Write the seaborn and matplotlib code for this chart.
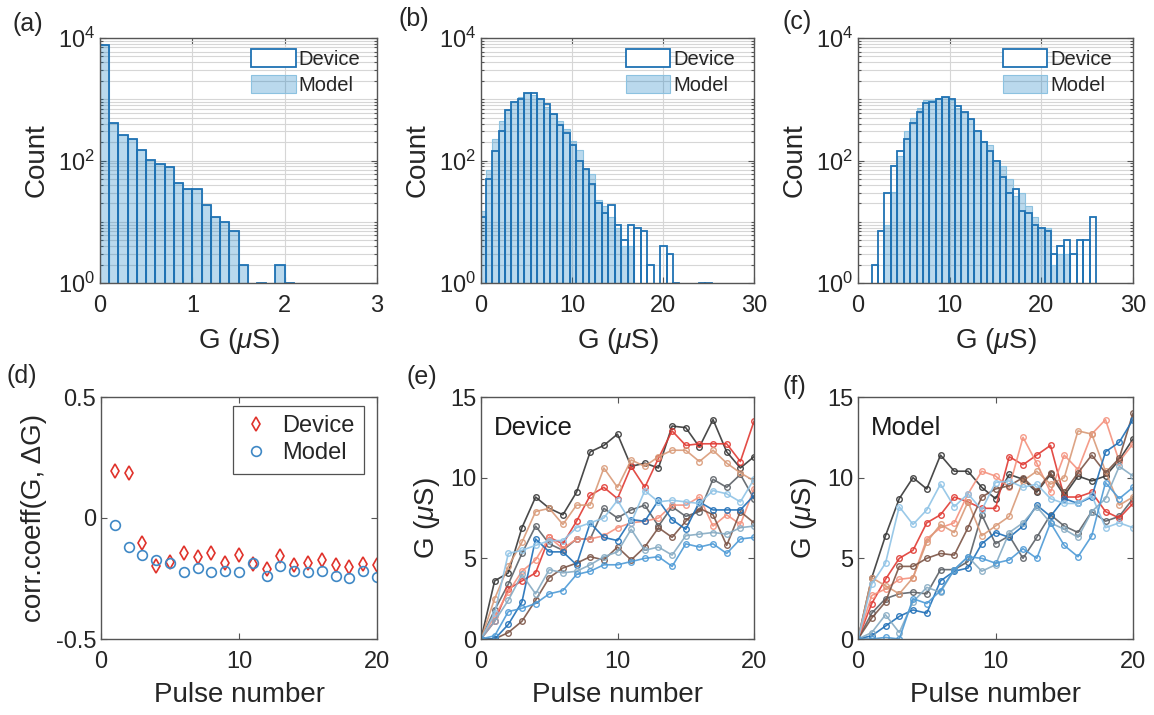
import numpy as np
import pandas as pd
import matplotlib
matplotlib.use('Agg')
import matplotlib.pyplot as plt
import seaborn as sns
from matplotlib.patches import Patch
from matplotlib.lines import Line2D
from matplotlib.ticker import FixedLocator, LogFormatterMathtext, NullFormatter

# ---- histogram data (bin start, bin width, counts) ----
a_start, a_width = 0.0, 0.1
a_device = [7800, 405, 262, 222, 151, 102, 88, 78, 43, 34, 34, 19, 12, 10, 7, 2, 0, 1, 0, 2, 1]
a_model = [7800, 405, 262, 222, 151, 102, 88, 78, 43, 34, 34, 19, 12, 10, 7, 2, 0, 1, 0, 2, 1]

b_start, b_width = -0.2, 0.71
b_device = [12, 50, 143, 302, 660, 900, 1010, 1250, 1250, 1010, 830, 575, 380, 277, 177, 97, 74, 42,
            20, 14, 19, 9, 5, 9, 8, 7, 2, 0, 4, 3, 1, 0, 0, 0, 1, 1, 0]
b_model = [15, 70, 222, 446, 660, 900, 1100, 1250, 1170, 1010, 760, 575, 446, 326, 208, 150, 74, 60,
           23, 18, 12, 8, 4, 4, 0, 0, 0, 0, 0, 0, 0, 0, 0, 0, 0, 0, 0]

c_start, c_width = 1.49, 0.699
c_device = [2, 7, 29, 82, 143, 222, 406, 628, 860, 915, 1000, 1075, 1010, 785, 628, 475, 302, 203,
            143, 98, 53, 29, 34, 15, 14, 9, 8, 7, 3, 4, 5, 3, 5, 5, 12]
c_model = [0, 0, 9, 31, 118, 308, 490, 727, 975, 975, 1040, 1075, 975, 710, 628, 475, 302, 206,
           178, 100, 81, 49, 26, 29, 18, 12, 8, 8, 2, 3, 3, 0, 0, 0, 0]

# ---- correlation coefficient vs pulse ----
pulses = list(range(1, 21))
corr_device = [0.193, 0.186, -0.105, -0.197, -0.18, -0.146, -0.160, -0.146, -0.184, -0.153,
               -0.192, -0.212, -0.156, -0.195, -0.188, -0.174, -0.195, -0.204, -0.192, -0.195]
corr_model = [-0.027, -0.119, -0.151, -0.174, -0.188, -0.222, -0.208, -0.222, -0.219, -0.222,
              -0.188, -0.239, -0.197, -0.219, -0.222, -0.219, -0.239, -0.247, -0.219, -0.243]

# ---- conductance traces ----
steps = list(range(0, 21))
trace_colors = ['#363636', '#5b6066', '#e03a33', '#f4917d', '#d99a78', '#7b5446',
                '#1f6fb7', '#8fc3e6', '#86abc3', '#4d9ad6']
device_traces = [
    [0, 3.6, 4.1, 6.9, 8.8, 8.1, 7.7, 9.1, 11.6, 12.0, 12.7, 10.7, 10.9, 10.6, 13.2, 13.1, 11.9, 13.6, 11.6, 10.6, 11.3],
    [0, 1.8, 3.4, 5.3, 7.0, 5.9, 5.5, 6.2, 6.2, 8.1, 7.5, 8.0, 8.3, 7.0, 8.2, 7.6, 7.9, 9.9, 9.4, 10.2, 8.7],
    [0, 1.1, 3.1, 3.6, 4.1, 6.3, 5.9, 7.3, 8.9, 9.4, 8.7, 10.7, 9.4, 11.2, 12.9, 12.0, 12.1, 12.1, 12.1, 11.0, 13.5],
    [0, 1.4, 2.9, 4.2, 4.9, 6.3, 5.6, 6.2, 6.2, 6.4, 6.9, 7.2, 7.3, 7.5, 8.3, 8.3, 8.8, 7.0, 7.7, 7.1, 9.3],
    [0, 2.5, 4.5, 6.0, 7.9, 8.1, 7.1, 8.3, 8.3, 10.6, 9.4, 11.1, 10.7, 11.3, 11.7, 11.7, 11.0, 11.7, 10.9, 10.3, 9.8],
    [0, 0, 0.4, 1.1, 2.4, 3.8, 4.4, 4.7, 5.1, 4.9, 5.7, 4.9, 5.7, 6.9, 6.3, 7.3, 8.1, 7.7, 5.8, 7.9, 7.2],
    [0, 0, 0.9, 2.3, 6.2, 5.4, 5.4, 4.6, 7.2, 6.3, 6.1, 7.4, 7.3, 8.6, 7.4, 6.8, 8.5, 8.0, 8.0, 8.0, 8.9],
    [0, 1.6, 5.3, 5.5, 5.8, 6.1, 6.1, 6.9, 7.2, 7.5, 8.6, 7.2, 9.2, 8.5, 8.6, 8.5, 8.4, 9.2, 9.0, 8.5, 9.9],
    [0, 1.1, 2.4, 4.0, 2.8, 4.3, 4.1, 4.2, 4.6, 5.1, 5.4, 6.8, 5.5, 5.7, 5.2, 6.4, 6.5, 6.6, 6.5, 6.9, 7.0],
    [0, 0.2, 1.7, 1.9, 2.2, 2.8, 3.0, 4.0, 4.2, 4.6, 4.6, 4.8, 5.0, 5.1, 4.5, 5.9, 5.7, 5.9, 5.3, 6.2, 6.3],
]
model_traces = [
    [0, 3.8, 6.4, 8.7, 10.0, 9.3, 11.4, 10.4, 10.4, 9.4, 8.7, 10.2, 9.9, 9.1, 10.2, 8.9, 10.1, 9.8, 10.1, 11.1, 12.4],
    [0, 1.6, 2.5, 2.8, 2.9, 2.8, 4.3, 4.3, 4.8, 7.7, 5.9, 6.4, 5.0, 6.3, 7.7, 7.0, 6.6, 7.9, 7.3, 7.6, 8.7],
    [0, 2.2, 3.7, 5.0, 5.5, 7.2, 7.7, 8.8, 8.5, 8.1, 8.1, 11.3, 10.8, 11.4, 12.0, 8.8, 8.8, 9.1, 7.9, 7.5, 8.4],
    [0, 2.7, 3.1, 3.7, 3.8, 6.2, 6.9, 7.2, 9.0, 10.4, 10.1, 9.4, 12.5, 10.9, 9.1, 11.4, 10.5, 12.7, 13.6, 11.0, 12.1],
    [0, 3.8, 3.3, 2.8, 3.8, 6.0, 7.1, 6.6, 8.5, 6.4, 7.0, 7.6, 9.8, 10.4, 9.6, 10.0, 12.9, 12.7, 10.4, 8.3, 8.8],
    [0, 1.3, 2.3, 4.5, 4.5, 5.0, 5.3, 5.2, 6.9, 8.8, 9.3, 9.5, 10.0, 9.2, 10.3, 9.1, 10.3, 11.4, 10.3, 11.2, 14.0],
    [0, 0.2, 0.8, 1.4, 1.8, 1.6, 3.6, 4.2, 4.4, 5.9, 6.6, 6.3, 7.0, 8.3, 7.6, 8.7, 8.4, 8.8, 11.6, 12.2, 13.6],
    [0, 3.4, 4.7, 8.2, 7.1, 8.0, 9.6, 8.2, 9.0, 8.0, 9.7, 9.8, 9.4, 9.6, 8.7, 8.4, 8.4, 8.9, 6.9, 7.2, 6.9],
    [0, 0.4, 1.5, 0.4, 2.3, 3.2, 2.9, 4.3, 5.1, 4.2, 4.6, 6.6, 7.2, 8.2, 7.2, 6.8, 6.3, 7.9, 8.7, 10.7, 10.1],
    [0, 0, 0.1, 0, 2.5, 2.2, 3.0, 4.3, 5.1, 5.0, 4.7, 4.9, 5.6, 5.0, 7.2, 5.8, 5.1, 6.4, 9.7, 8.7, 9.4],
]

# ---- style ----
sns.set_style('ticks')
plt.rcParams['font.family'] = ['Liberation Sans', 'DejaVu Sans']
plt.rcParams['mathtext.fontset'] = 'custom'
plt.rcParams['mathtext.rm'] = 'Liberation Sans'
plt.rcParams['mathtext.it'] = 'Liberation Sans:italic'
plt.rcParams['axes.unicode_minus'] = False

txt = '#262626'
spine = '#555555'
dev_blue = '#1f72b3'
model_face = (0.0, 0.45, 0.74)
model_edge = (0.55, 0.76, 0.88)
red = '#e0322b'
blue = '#3f88c5'
glabel = r'G ($\mu$S)'

W, H = 1154, 715
fig = plt.figure(figsize=(W / 100, H / 100), dpi=100)


def add_ax(left, top, width, height):
    return fig.add_axes([left / W, 1 - (top + height) / H, width / W, height / H])


def style_ax(ax):
    for s in ax.spines.values():
        s.set_color(spine)
        s.set_linewidth(1.0)
    ax.tick_params(which='both', direction='in', top=True, right=True,
                   color=spine, labelcolor=txt, labelsize=17, width=0.8)
    ax.tick_params(which='major', length=4)
    ax.tick_params(which='minor', length=2)
    ax.tick_params(axis='x', which='major', pad=9)


def hist_panel(ax, start, width, device, model, xmax, xticks, leg_x):
    edges = [start + width * k for k in range(len(device) + 1)]
    centers = [(edges[k] + edges[k + 1]) / 2 for k in range(len(device))]
    sns.histplot(x=centers, weights=model, bins=edges, ax=ax, color=model_face, alpha=0.27,
                 edgecolor=model_edge, linewidth=0.8)
    sns.histplot(x=centers, weights=device, bins=edges, ax=ax, fill=False, color=dev_blue,
                 alpha=1, linewidth=1.3)
    ax.set_yscale('log')
    ax.set_ylim(1, 1e4)
    ax.set_xlim(0, xmax)
    ax.set_xticks(xticks)
    ax.set_xticklabels([str(t) for t in xticks])
    ax.yaxis.set_major_locator(FixedLocator([1, 100, 1e4]))
    ax.yaxis.set_major_formatter(LogFormatterMathtext())
    minors = [k * 10 ** n for n in range(4) for k in range(1, 10) if k * 10 ** n not in (1, 100)]
    ax.yaxis.set_minor_locator(FixedLocator(minors))
    ax.yaxis.set_minor_formatter(NullFormatter())
    ax.set_axisbelow(True)
    ax.grid(True, which='major', color='#d6d6d6', lw=0.8)
    ax.grid(True, which='minor', axis='y', color='#d6d6d6', lw=0.8)
    style_ax(ax)
    ax.set_xlabel(glabel, fontsize=20, color=txt, labelpad=6)
    ax.set_ylabel('Count', fontsize=20, color=txt, labelpad=6)
    handles = [Patch(facecolor='white', edgecolor=dev_blue, lw=1.3, label='Device'),
               Patch(facecolor=(*model_face, 0.27), edgecolor=model_edge, lw=0.8, label='Model')]
    ax.legend(handles=handles, loc='upper right', bbox_to_anchor=(leg_x, 0.955), frameon=False,
              fontsize=14.5, handlelength=2.2, handleheight=1.0, handletextpad=0.15,
              labelspacing=0.3, borderpad=0, borderaxespad=0)


ax_a = add_ax(100, 38, 277, 245)
hist_panel(ax_a, a_start, a_width, a_device, a_model, 3, [0, 1, 2, 3], 0.94)
ax_b = add_ax(481, 38, 273, 245)
hist_panel(ax_b, b_start, b_width, b_device, b_model, 30, [0, 10, 20, 30], 0.93)
ax_c = add_ax(858, 38, 275, 245)
hist_panel(ax_c, c_start, c_width, c_device, c_model, 30, [0, 10, 20, 30], 0.924)

# (d) correlation
ax_d = add_ax(101, 397, 276, 242)
ax_d.plot(pulses, corr_device, linestyle='none', marker='d', ms=7.5, mfc='none', mec=red, mew=1.2)
ax_d.plot(pulses, corr_model, linestyle='none', marker='o', ms=7, mfc='none', mec=blue, mew=1.2)
ax_d.set_xlim(0, 20)
ax_d.set_ylim(-0.5, 0.5)
ax_d.set_xticks([0, 10, 20])
ax_d.set_xticklabels(['0', '10', '20'])
ax_d.set_yticks([-0.5, 0, 0.5])
ax_d.set_yticklabels(['-0.5', '0', '0.5'])
style_ax(ax_d)
ax_d.set_xlabel('Pulse number', fontsize=20, color=txt, labelpad=6)
ax_d.set_ylabel('corr.coeff(G, ΔG)', fontsize=20, color=txt, labelpad=6)
hd = [Line2D([], [], linestyle='none', marker='d', ms=7.5, mfc='none', mec=red, mew=1.2, label='Device'),
      Line2D([], [], linestyle='none', marker='o', ms=7, mfc='none', mec=blue, mew=1.2, label='Model')]
leg = ax_d.legend(handles=hd, loc='upper right', bbox_to_anchor=(0.953, 0.963), fontsize=17,
                  frameon=True, fancybox=False, edgecolor=txt, handlelength=1.2,
                  handletextpad=0.5, labelspacing=0.2, borderpad=0.4, borderaxespad=0)
leg.get_frame().set_linewidth(0.9)


def trace_panel(ax, traces, name):
    for vals, col in zip(traces, trace_colors):
        df = pd.DataFrame({'pulse': steps, 'G': vals})
        sns.lineplot(data=df, x='pulse', y='G', ax=ax, color=col, lw=1.2, alpha=0.9,
                     marker='o', markersize=4, markerfacecolor='none', markeredgecolor=col,
                     markeredgewidth=1.0)
    ax.set_xlim(0, 20)
    ax.set_ylim(0, 15)
    ax.set_xticks([0, 10, 20])
    ax.set_xticklabels(['0', '10', '20'])
    ax.set_yticks([0, 5, 10, 15])
    ax.set_yticklabels(['0', '5', '10', '15'])
    style_ax(ax)
    ax.set_xlabel('Pulse number', fontsize=20, color=txt, labelpad=6)
    ax.set_ylabel(glabel, fontsize=20, color=txt, labelpad=6)
    ax.text(0.95, 13.1, name, fontsize=18.5, color='#1a1a1a', va='center', ha='left')


ax_e = add_ax(481, 397, 273, 242)
trace_panel(ax_e, device_traces, 'Device')
ax_f = add_ax(858, 397, 275, 242)
trace_panel(ax_f, model_traces, 'Model')

# panel letters
for lab, x, y in [('(a)', 12, 24), ('(b)', 398, 19), ('(c)', 783, 22),
                  ('(d)', 6, 376), ('(e)', 407, 377), ('(f)', 783, 387)]:
    fig.text(x / W, 1 - y / H, lab, fontsize=18, color=txt, ha='left', va='center')

fig.savefig('out.png', dpi=100, facecolor='white')
